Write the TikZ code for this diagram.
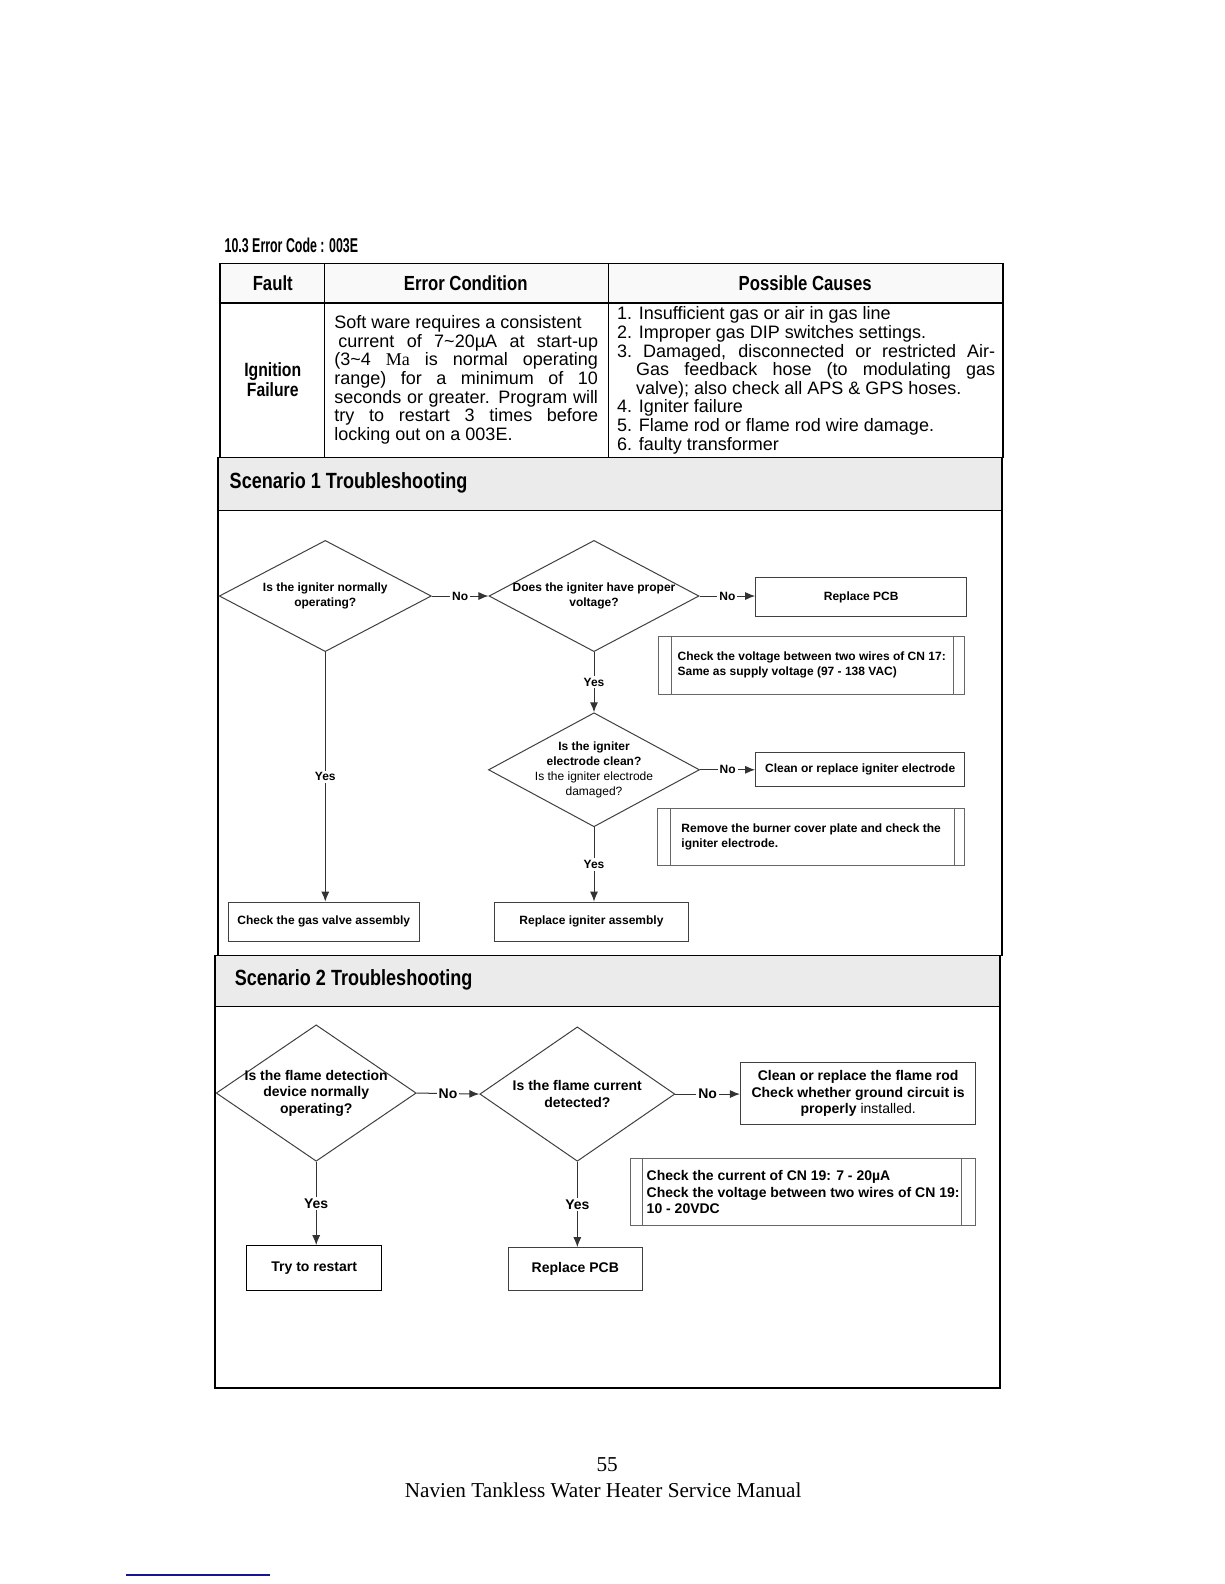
\documentclass[tikz,border=0pt]{standalone}
\usepackage{fontspec}
\setmainfont{Liberation Sans}
\newfontfamily\condsans[FakeStretch=0.62]{Liberation Sans}
\newfontfamily\narrowsans[FakeStretch=0.82]{Liberation Sans}
\newfontfamily\footserif{Liberation Serif}
\newfontfamily\plainserif{Liberation Serif}
\usetikzlibrary{shapes.geometric,arrows.meta}
\definecolor{bandgray}{gray}{0.92}
\definecolor{linkblue}{RGB}{20,20,150}

\begin{document}
\begin{tikzpicture}[x=0.505pt,y=-0.505pt,
  dia/.style={diamond,draw=black!75,line width=0.5pt,inner sep=0pt},
  box/.style={rectangle,draw=black!75,line width=0.5pt,inner sep=0pt,align=center},
  note/.style={rectangle,draw=black!60,line width=0.5pt,inner sep=0pt,align=left},
  small/.style={font=\fontsize{6}{7.5}\selectfont\bfseries,align=center},
  mid/.style={font=\fontsize{7}{8.3}\selectfont\bfseries,align=center},
  cell/.style={font=\fontsize{9}{9.3}\selectfont},
  head/.style={font=\narrowsans\fontsize{10.2}{9.6}\selectfont\bfseries},
  band/.style={anchor=west,inner sep=0pt,font=\narrowsans\fontsize{11}{12}\selectfont\bfseries},
  link/.style={draw=black!80,line width=0.5pt,-{Latex[length=5pt,width=4pt]}},
  lab/.style={fill=white,inner sep=1pt}]

\fill[white] (0,0) rectangle (1212,1568);

\node[anchor=west,inner sep=0pt,font=\condsans\fontsize{10}{11}\selectfont\bfseries] (title) at (222,243) {10.3 Error Code : 003E};

% table
\fill[gray!5] (218,261) rectangle (993,300);
\draw[line width=0.8pt] (218,261) rectangle (993,453);
\draw[line width=0.6pt] (218,300) -- (993,300);
\draw[line width=0.6pt] (321,261) -- (321,453);
\draw[line width=0.6pt] (602,261) -- (602,453);

\node[head] (hfault) at (270,280) {Fault};
\node[head] (hcond) at (461,280) {Error Condition};
\node[head] (hcause) at (797,280) {Possible Causes};
\node[font=\narrowsans\fontsize{9.6}{10.2}\selectfont\bfseries,align=center] (fault) at (270,376) {Ignition\\Failure};
\node[cell,text width=131.8pt,align=justify,inner sep=0pt] (cond) at (461.5,376) {Soft ware requires a consistent\\
\hspace*{2pt}current of 7\textasciitilde20µA at start-up\linebreak
(3\textasciitilde4 {\plainserif Ma} is normal operating\linebreak
range) for a minimum of 10\linebreak
seconds or greater. Program will\linebreak
try to restart 3 times before\linebreak
locking out on a 003E.};
\node[cell,text width=188.9pt,align=justify,inner sep=0pt] (cause) at (798,376.5) {1. Insufficient gas or air in gas line\\
2. Improper gas DIP switches settings.\\
3.\ Damaged, disconnected or restricted Air-\linebreak
\hspace*{9.5pt}Gas feedback hose (to modulating gas\linebreak
\hspace*{9.5pt}valve); also check all APS \& GPS hoses.\\
4. Igniter failure\\
5. Flame rod or flame rod wire damage.\\
6. faulty transformer};

% scenario frames
\fill[bandgray] (216,453) rectangle (992,505);
\fill[bandgray] (213,946) rectangle (990,996);
\draw[line width=0.8pt] (216,453) rectangle (992,946);
\draw[line width=0.8pt] (213,946) rectangle (990,1374);
\draw[line width=0.6pt] (216,505) -- (992,505);
\draw[line width=0.6pt] (213,996) -- (990,996);
\node[band] (sc1) at (227,478) {Scenario 1 Troubleshooting};
\node[band] (sc2) at (232,970) {Scenario 2 Troubleshooting};

% scenario 1
\node[dia,minimum width=106pt,minimum height=55.6pt] (q1) at (322,590) {};
\node[small] (q1t) at (q1) {Is the igniter normally\\operating?};
\node[dia,minimum width=105pt,minimum height=55.6pt] (q2) at (588,590) {};
\node[small] (q2t) at (q2) {Does the igniter have proper\\voltage?};
\node[dia,minimum width=105.5pt,minimum height=57pt] (q3) at (588,762) {};
\node[small] (q3t) at (q3) {Is the igniter\\electrode clean?\\{\mdseries Is the igniter electrode}\\{\mdseries damaged?}};

\node[box,small,minimum width=105.5pt,minimum height=19.2pt] (pcb1) at (852.5,591) {Replace PCB};
\node[note,small,align=left,minimum width=153pt,minimum height=28.8pt] (chk1) at (803.5,658.5) {Check the voltage between two wires of CN 17:\\Same as supply voltage (97 - 138 VAC)};
\draw[black!60,line width=0.5pt] ([xshift=6.5pt]chk1.north west) -- ([xshift=6.5pt]chk1.south west);
\draw[black!60,line width=0.5pt] ([xshift=-6pt]chk1.north east) -- ([xshift=-6pt]chk1.south east);
\node[box,small,minimum width=104.5pt,minimum height=17.2pt] (elec) at (851.5,762) {Clean or replace igniter electrode};
\node[note,small,align=left,minimum width=153.5pt,minimum height=28.8pt] (chk2) at (803,828.5) {Remove the burner cover plate and check the\\igniter electrode.};
\draw[black!60,line width=0.5pt] ([xshift=6.5pt]chk2.north west) -- ([xshift=6.5pt]chk2.south west);
\draw[black!60,line width=0.5pt] ([xshift=-5.5pt]chk2.north east) -- ([xshift=-5.5pt]chk2.south east);
\node[box,small,minimum width=95.4pt,minimum height=19.7pt] (gasv) at (320.5,912.5) {Check the gas valve assembly};
\node[box,small,minimum width=96.5pt,minimum height=19.7pt] (ign) at (585.5,912.5) {Replace igniter assembly};

\draw[link] (q1.east) -- node[lab,small] {No} (q2.west);
\draw[link] (q2.east) -- node[lab,small] {No} (q2.east -| pcb1.west);
\draw[link] (q2.south) -- node[lab,small] {Yes} (q3.north);
\draw[link] (q3.east) -- node[lab,small] {No} (q3.east -| elec.west);
\draw[link] (q3.south) -- node[lab,small] {Yes} (q3.south |- ign.north);
\draw[link] (q1.south) -- node[lab,small] {Yes} (q1.south |- gasv.north);

% scenario 2
\node[dia,minimum width=100pt,minimum height=68.2pt] (q4) at (313,1082) {};
\node[mid] (q4t) at (q4) {Is the flame detection\\device normally\\operating?};
\node[dia,minimum width=97.5pt,minimum height=67.2pt] (q5) at (571.5,1083) {};
\node[mid] (q5t) at (q5) {Is the flame current\\detected?};

\node[box,mid,minimum width=117.7pt,minimum height=30.8pt] (rod) at (849.5,1082.5) {Clean or replace the flame rod\\Check whether ground circuit is\\properly {\mdseries installed.}};
\node[note,mid,align=left,minimum width=172.7pt,minimum height=33.3pt] (chk3) at (795,1180) {Check the current of CN 19: 7 - 20µA\\Check the voltage between two wires of CN 19:\\10 - 20VDC};
\draw[black!60,line width=0.5pt] ([xshift=6.5pt]chk3.north west) -- ([xshift=6.5pt]chk3.south west);
\draw[black!60,line width=0.5pt] ([xshift=-7.5pt]chk3.north east) -- ([xshift=-7.5pt]chk3.south east);
\node[box,mid,draw=black,minimum width=67.7pt,minimum height=22.2pt] (rst) at (311,1255) {Try to restart};
\node[box,mid,minimum width=67.2pt,minimum height=21.2pt] (pcb2) at (569.5,1256) {Replace PCB};

\draw[link] (q4.east) -- node[lab,mid] {No} (q5.west);
\draw[link] (q5.east) -- node[lab,mid] {No} (q5.east -| rod.west);
\draw[link] (q4.south) -- node[lab,mid] {Yes} (q4.south |- rst.north);
\draw[link] (q5.south) -- node[lab,mid] {Yes} (q5.south |- pcb2.north);

% footer
\node[font=\footserif\fontsize{10.6}{12}\selectfont] (pg) at (601,1450) {55};
\node[font=\footserif\fontsize{10.6}{12}\selectfont] (man) at (597,1475) {Navien Tankless Water Heater Service Manual};
\draw[linkblue,line width=0.9pt] (125,1559) -- (267,1559);
\end{tikzpicture}
\end{document}
